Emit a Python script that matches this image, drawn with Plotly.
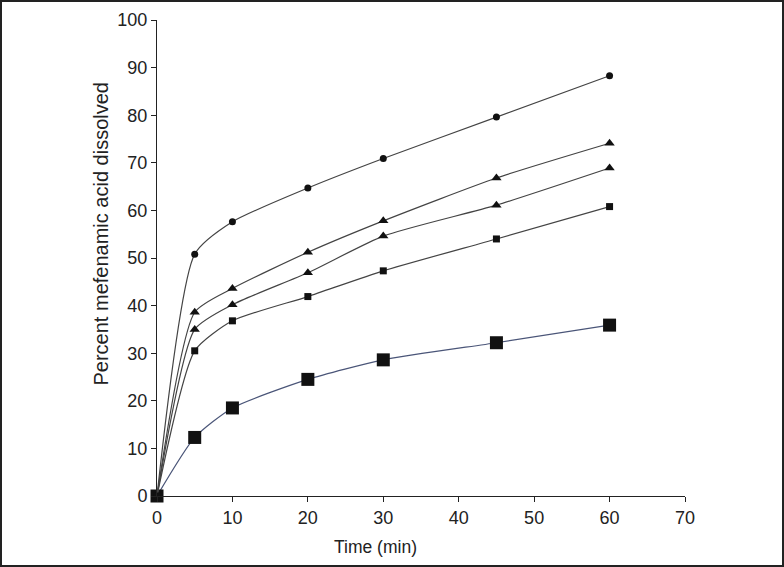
import plotly.graph_objects as go

time_min = [0, 5, 10, 20, 30, 45, 60]
series_circle = [0, 50.8, 57.6, 64.7, 70.9, 79.6, 88.3]
series_tri_upper = [0, 38.6, 43.6, 51.2, 57.8, 66.8, 74.1]
series_tri_lower = [0, 35.0, 40.2, 46.9, 54.6, 61.1, 68.9]
series_small_square = [0, 30.5, 36.8, 41.9, 47.3, 54.0, 60.8]
series_big_square = [0, 12.3, 18.5, 24.5, 28.6, 32.2, 35.9]

x_ticks = [0, 10, 20, 30, 40, 50, 60, 70]
y_ticks = [0, 10, 20, 30, 40, 50, 60, 70, 80, 90, 100]

fig = go.Figure()

def add(y, symbol, size, linecolor):
    fig.add_trace(go.Scatter(
        x=time_min, y=y, mode="lines+markers",
        line=dict(color=linecolor, width=1.2, shape="spline", smoothing=0.6),
        marker=dict(symbol=symbol, size=size, color="#111111"),
        cliponaxis=False, showlegend=False))

add(series_big_square, "square", 13, "#4a5578")
add(series_small_square, "square", 7, "#444444")
add(series_tri_lower, "triangle-up", 9, "#444444")
add(series_tri_upper, "triangle-up", 9, "#444444")
add(series_circle, "circle", 7, "#444444")

W, H = 784, 567
L, R, T, B = 157, 99, 20, 71
pw, ph = W - L - R, H - T - B
fig.add_shape(type="rect", xref="paper", yref="paper",
              x0=(1 - L) / pw, x1=(W - 1 - L) / pw,
              y0=(T + ph - (H - 1)) / ph, y1=(T + ph - 1) / ph,
              line=dict(color="#222222", width=2))

FONT = "Liberation Sans, Arial, sans-serif"
fig.add_annotation(text="Percent mefenamic acid dissolved", textangle=-90,
                   xref="paper", yref="paper", showarrow=False,
                   x=(101 - L) / pw, y=(T + ph - 234.5) / ph,
                   xanchor="center", yanchor="middle",
                   font=dict(family=FONT, size=20, color="#222222"))
fig.add_annotation(text="Time (min)",
                   xref="paper", yref="paper", showarrow=False,
                   x=(375.5 - L) / pw, y=(T + ph - 547) / ph,
                   xanchor="center", yanchor="middle",
                   font=dict(family=FONT, size=17.5, color="#222222"))

fig.update_layout(
    width=W, height=H,
    margin=dict(l=L, r=R, t=T, b=B),
    paper_bgcolor="white", plot_bgcolor="white",
    font=dict(family=FONT, size=18, color="#222222"),
    xaxis=dict(range=[0, 70], tickvals=x_ticks, showline=True, linecolor="#222222",
               linewidth=1, ticks="outside", ticklen=5, tickcolor="#222222",
               showgrid=False, zeroline=False, automargin=False),
    yaxis=dict(range=[0, 100], tickvals=y_ticks, showline=True, linecolor="#222222",
               linewidth=1, ticks="outside", ticklen=5, tickcolor="#222222",
               showgrid=False, zeroline=False, automargin=False),
)

fig.write_html("out.html", config={"displayModeBar": False},
               post_script="document.body.style.margin='0px';")
